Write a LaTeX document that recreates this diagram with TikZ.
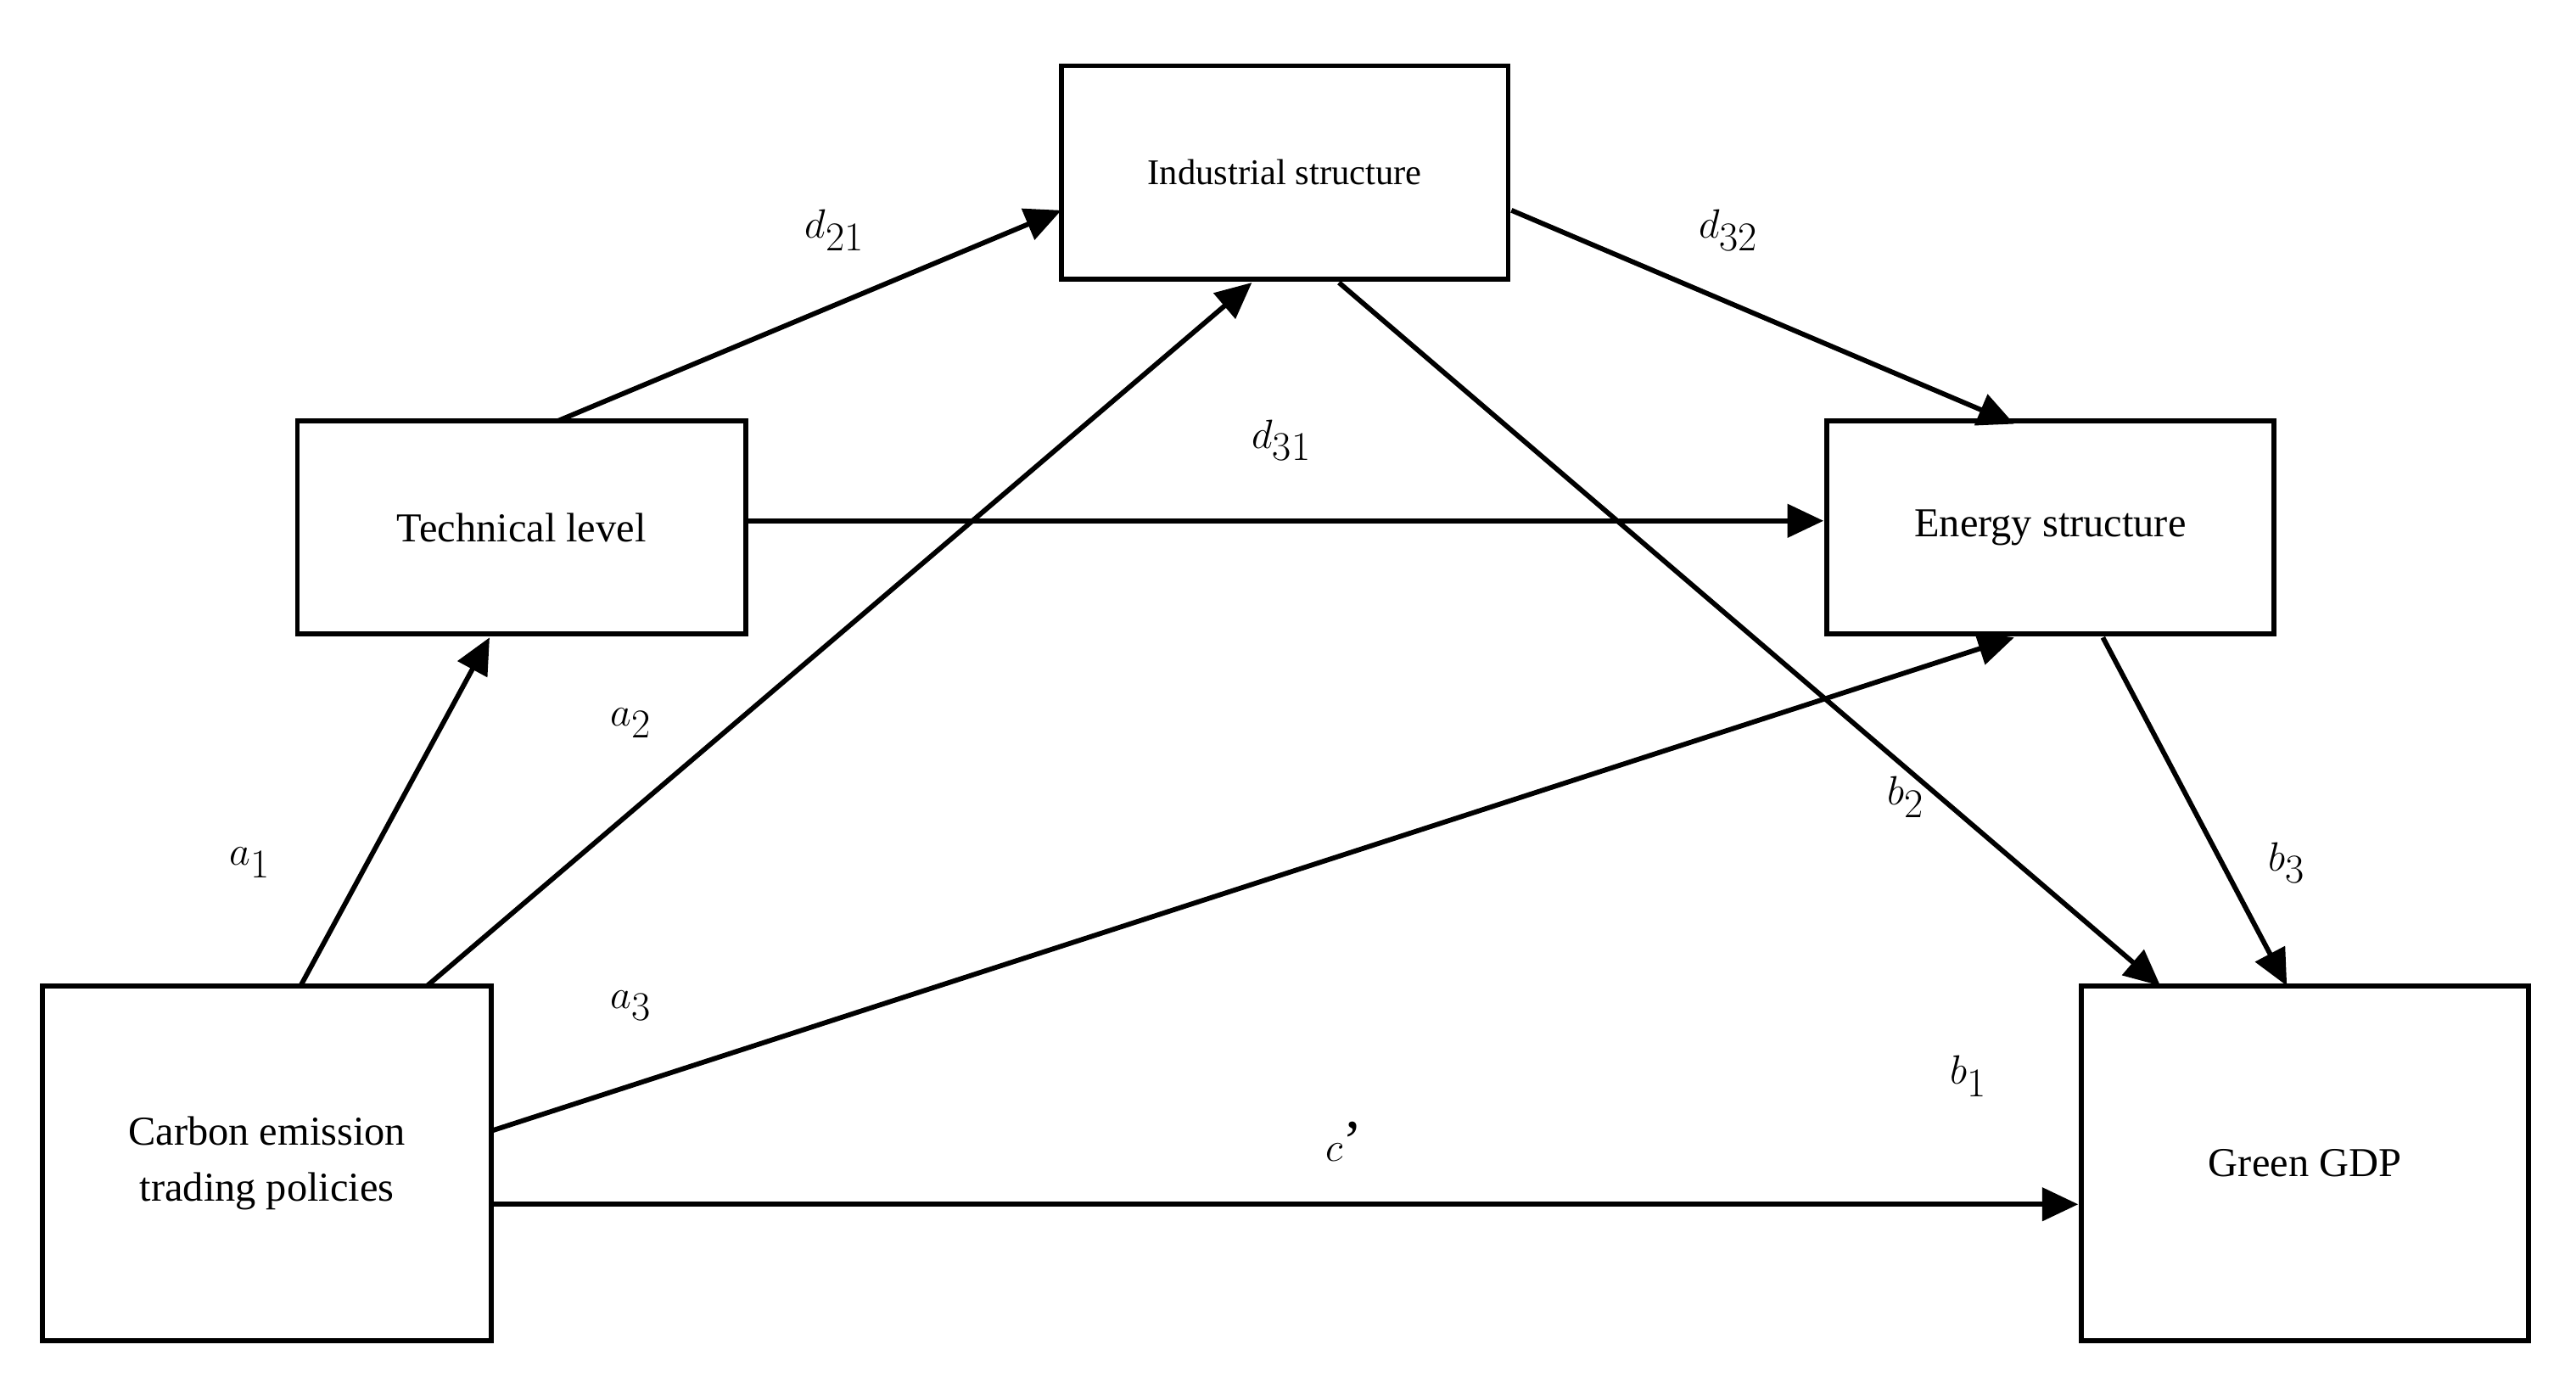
\documentclass[tikz,border=0pt]{standalone}
\usepackage{fontspec}
\setmainfont{Liberation Serif}
\usetikzlibrary{arrows.meta}
\begin{document}
\begin{tikzpicture}[x=1pt,y=-1pt,
 box/.style={draw,line width=3pt,inner sep=0pt,align=center,font=\fontsize{25}{34}\selectfont},
 arr/.style={line width=3pt,-{Triangle[length=22pt,width=20pt]}},
 lab/.style={font=\itshape\fontsize{36}{40}\selectfont}]
\useasboundingbox (0,0) rectangle (1568,849);
\node[box,minimum width=272pt,minimum height=130pt,font=\fontsize{22}{26}\selectfont] (ind) at (782,105) {Industrial structure};
\node[box,minimum width=273pt,minimum height=130pt] (tec) at (317.5,321) {Technical level};
\node[box,minimum width=272pt,minimum height=130pt] (ene) at (1248,321) {Energy structure};
\node[box,minimum width=273pt,minimum height=216pt] (car) at (162.5,708) {Carbon emission\\trading policies};
\node[box,minimum width=272pt,minimum height=216pt] (ggd) at (1403,708) {Green GDP};
\coordinate (c1) at (183,600); \coordinate (t1) at (298,388);
\coordinate (c2) at (260,600); \coordinate (i2) at (762,172);
\coordinate (c3) at (300,688); \coordinate (e3) at (1226,388);
\coordinate (c4) at (300,733); \coordinate (g4) at (1265,733);
\coordinate (t5) at (340,256); \coordinate (i5) at (646,128);
\coordinate (t6) at (454,317); \coordinate (e6) at (1110,317);
\coordinate (i7) at (920,128); \coordinate (e7) at (1226,258);
\coordinate (i8) at (815,172); \coordinate (g8) at (1315,600);
\coordinate (e9) at (1280,388); \coordinate (g9) at (1392,600);
\draw[arr] (c1) -- (t1);
\draw[arr] (c2) -- (i2);
\draw[arr] (c3) -- (e3);
\draw[arr] (c4) -- (g4);
\draw[arr] (t5) -- (i5);
\draw[arr] (t6) -- (e6);
\draw[arr] (i7) -- (e7);
\draw[arr] (i8) -- (g8);
\draw[arr] (e9) -- (g9);
\node[lab] (la1) at (152,525) {$a_1$};
\node[lab] (la2) at (384,440) {$a_2$};
\node[lab] (la3) at (384,612) {$a_3$};
\node[lab] (lc) at (812,695) {$c$\rlap{\upshape'}};
\node[lab] (ld21) at (508,140) {$d_{21}$};
\node[lab] (ld32) at (1052,140) {$d_{32}$};
\node[lab] (ld31) at (780,268) {$d_{31}$};
\node[lab] (lb2) at (1160,485) {$b_2$};
\node[lab] (lb3) at (1392,525) {$b_3$};
\node[lab] (lb1) at (1198,655) {$b_1$};
\end{tikzpicture}
\end{document}
